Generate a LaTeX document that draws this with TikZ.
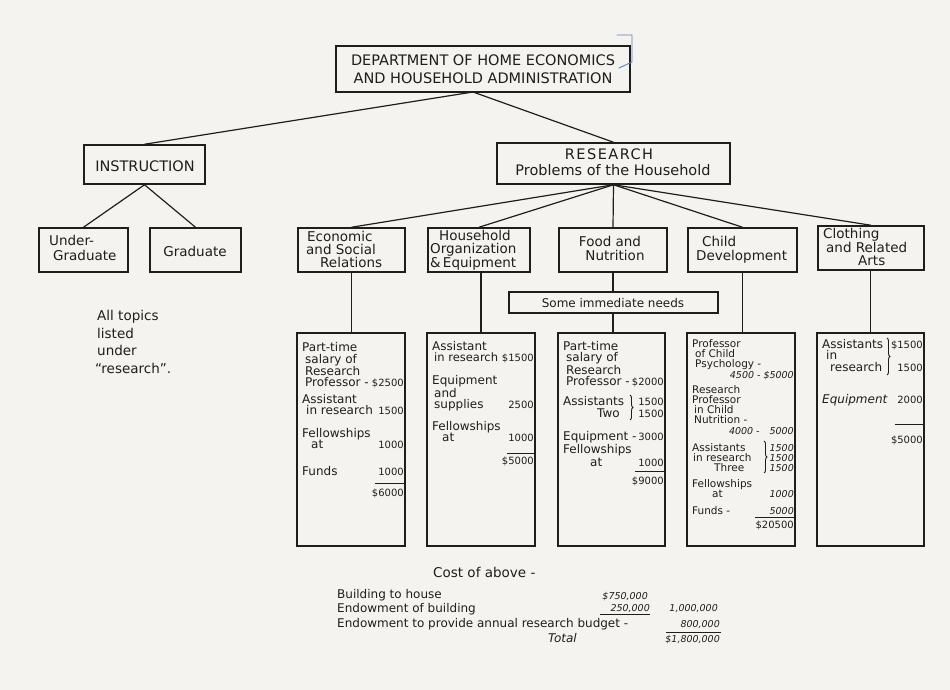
\documentclass[tikz,border=0pt]{standalone}
\usepackage{fontspec}
\setmainfont{DejaVu Sans}
\usetikzlibrary{decorations.pathreplacing}
\definecolor{ink}{HTML}{1E1E1C}
\definecolor{paper}{HTML}{F4F3EF}
\definecolor{pen}{HTML}{5C80B8}
\newcounter{tn}
\newcommand\LT[3][bt]{\stepcounter{tn}\node[#1,anchor=base west] (t\arabic{tn}) at (#2) {#3};}
\newcommand\RT[3][nm]{\stepcounter{tn}\node[#1,anchor=base east] (t\arabic{tn}) at (#2) {#3};}
\newcommand\CT[3][hd]{\stepcounter{tn}\node[#1,anchor=base] (t\arabic{tn}) at (#2) {#3};}
\begin{document}
\begin{tikzpicture}[x=1pt,y=-1pt,
  box/.style={draw=ink, line width=1.5pt, rectangle, inner sep=0pt},
  ln/.style={draw=ink, line width=1.2pt},
  rl/.style={draw=ink, line width=1pt},
  hd/.style={inner sep=0pt, text=ink, font=\fontsize{14.5}{16}\selectfont},
  tt/.style={inner sep=0pt, text=ink, font=\fontsize{13.5}{15}\selectfont},
  bt/.style={inner sep=0pt, text=ink, font=\fontsize{12}{14}\selectfont},
  bs/.style={inner sep=0pt, text=ink, font=\fontsize{11.5}{13}\selectfont},
  st/.style={inner sep=0pt, text=ink, font=\fontsize{10.5}{12}\selectfont},
  nm/.style={inner sep=0pt, text=ink, font=\fontsize{10}{11}\selectfont},
  on/.style={inner sep=0pt, text=ink, font=\fontsize{9.5}{11}\selectfont\itshape},
  brc/.style={draw=ink, line width=0.9pt, decorate, decoration={brace, amplitude=3pt}},
]
\fill[paper] (0,0) rectangle (950,690);
\useasboundingbox (0,0) rectangle (950,690);

% ---------- boxes ----------
\node[box, minimum width=294pt, minimum height=46pt] (top) at (483,69) {};
\node[box, minimum width=121pt, minimum height=39pt] (instr) at (144.5,164.5) {};
\node[box, minimum width=233pt, minimum height=41pt] (res) at (613.5,163.5) {};
\node[box, minimum width=89pt, minimum height=44pt] (ug) at (83.5,250) {};
\node[box, minimum width=91pt, minimum height=44pt] (gr) at (195.5,250) {};
\node[box, minimum width=107pt, minimum height=44pt] (eco) at (351.5,250) {};
\node[box, minimum width=102pt, minimum height=44pt] (hh) at (479,250) {};
\node[box, minimum width=108pt, minimum height=44pt] (food) at (613,250) {};
\node[box, minimum width=109pt, minimum height=44pt] (child) at (742.5,250) {};
\node[box, minimum width=106pt, minimum height=44pt] (cloth) at (871,248) {};
\node[box, minimum width=209pt, minimum height=21pt] (needs) at (613.5,302.5) {};
\node[box, minimum width=108pt, minimum height=213pt] (b1) at (351,439.5) {};
\node[box, minimum width=108pt, minimum height=213pt] (b2) at (481,439.5) {};
\node[box, minimum width=107pt, minimum height=213pt] (b3) at (611.5,439.5) {};
\node[box, minimum width=108pt, minimum height=213pt] (b4) at (741,439.5) {};
\node[box, minimum width=107pt, minimum height=213pt] (b5) at (870.5,439.5) {};

% ---------- connectors ----------
\coordinate (apex) at (473,92);
\draw[ln] (apex) -- (instr.north);
\draw[ln] (apex) -- (res.north);
\draw[ln] (instr.south) -- (ug.north);
\draw[ln] (instr.south) -- (gr.north);
\foreach \n in {eco,hh,food,child,cloth} \draw[ln] (res.south) -- (\n.north);
\draw[ln] (eco.south) -- (eco.south |- b1.north);
\draw[ln] (b2.north |- hh.south) -- (b2.north);
\draw[ln] (food.south) -- (food.south |- needs.north);
\draw[ln] (food.south |- needs.south) -- (food.south |- b3.north);
\draw[ln] (child.south) -- (child.south |- b4.north);
\draw[ln] (b5.north |- cloth.south) -- (b5.north);

% blue pencil bracket
\draw[pen, line width=0.9pt, line cap=round] (617,35) -- (632,35) -- (632,62) -- (619,68);

% ---------- headings ----------
\CT{483,66}{DEPARTMENT OF HOME ECONOMICS}
\CT{483,84}{AND HOUSEHOLD ADMINISTRATION}
\CT{145,171}{INSTRUCTION}
\CT{609,159}{\addfontfeature{LetterSpace=10}RESEARCH}
\CT{613,175.5}{Problems of the Household}

\LT[tt]{307,241}{Economic}
\LT[tt]{306,254}{and Social}
\LT[tt]{320,267}{Relations}
\LT[tt]{439,240}{Household}
\LT[tt]{430,253}{Organization}
\LT[tt]{430,267.5}{\&\,Equipment}
\CT[tt]{610,246}{Food and}
\CT[tt]{615,260}{Nutrition}
\LT[tt]{702,246}{Child}
\LT[tt]{696,260}{Development}
\LT[tt]{823,238.5}{Clothing}
\LT[tt]{826,252.5}{and Related}
\LT[tt]{858,265.5}{Arts}
\CT[bt]{613,307}{Some immediate needs}
\LT[tt]{49,245}{Under-}
\LT[tt]{53,260}{Graduate}
\CT[tt]{195,256}{Graduate}

\LT[tt]{97,320}{All topics}
\LT[tt]{97,338}{listed}
\LT[tt]{97,355}{under}
\LT[tt]{95,373}{``research''.}

% ---------- budget box 1 ----------
\LT{302,351}{Part-time}
\LT{305,363}{salary of}
\LT{305,375}{Research}
\LT{305,386}{Professor -}
\RT{404,386}{\$2500}
\LT{302,403}{Assistant}
\LT{306,414.5}{in research}
\RT{404,414.5}{1500}
\LT{302,437.5}{Fellowships}
\LT{311,448}{at}
\RT{404,448}{1000}
\LT{302,475}{Funds}
\RT{404,475}{1000}
\coordinate (r1a) at (375,483); \coordinate (r1b) at (404,483);
\draw[rl] (r1a) -- (r1b);
\RT{404,496}{\$6000}

% ---------- budget box 2 ----------
\LT{432,350}{Assistant}
\LT[bs]{434,361.5}{in research}
\RT{534,361.5}{\$1500}
\LT{432,384}{Equipment}
\LT{434,397}{and}
\LT{434,408}{supplies}
\RT{534,408}{2500}
\LT{432,430}{Fellowships}
\LT{442,441}{at}
\RT{534,441}{1000}
\coordinate (r2a) at (507,453); \coordinate (r2b) at (534,453);
\draw[rl] (r2a) -- (r2b);
\RT{534,464}{\$5000}

% ---------- budget box 3 ----------
\LT{563,350}{Part-time}
\LT{566,361.5}{salary of}
\LT{566,374}{Research}
\LT{566,385.5}{Professor -}
\RT{664,385.5}{\$2000}
\LT{563,405}{Assistants}
\RT{664,405}{1500}
\LT{597,417}{Two}
\RT{664,417}{1500}
\coordinate (c3a) at (630,395); \coordinate (c3b) at (630,420);
\draw[brc] (c3a) -- (c3b);
\LT{563,440}{Equipment -}
\RT{664,440}{3000}
\LT{563,453}{Fellowships}
\LT{590,466}{at}
\RT{664,466}{1000}
\coordinate (r3a) at (635,471); \coordinate (r3b) at (664,471);
\draw[rl] (r3a) -- (r3b);
\RT{664,484}{\$9000}

% ---------- budget box 4 ----------
\LT[st]{692,347}{Professor}
\LT[st]{695,357}{of Child}
\LT[st]{695,367}{Psychology -}
\RT[on]{794,378}{4500 - \$5000}
\LT[st]{692,393}{Research}
\LT[st]{692,403}{Professor}
\LT[st]{694,413}{in Child}
\LT[st]{694,423}{Nutrition -}
\RT[on]{794,434}{4000 -\hspace{10pt}5000}
\LT[st]{692,451}{Assistants}
\RT[on]{794,451}{1500}
\LT[st]{693,461}{in research}
\RT[on]{794,461}{1500}
\LT[st]{714,471}{Three}
\RT[on]{794,471}{1500}
\coordinate (c4a) at (764,441); \coordinate (c4b) at (764,473);
\draw[brc] (c4a) -- (c4b);
\LT[st]{692,487}{Fellowships}
\LT[st]{712,497}{at}
\RT[on]{794,497}{1000}
\LT[st]{692,514}{Funds -}
\RT[on]{794,514}{5000}
\coordinate (r4a) at (755,517); \coordinate (r4b) at (794,517);
\draw[rl] (r4a) -- (r4b);
\RT{794,528}{\$20500}

% ---------- budget box 5 ----------
\LT{822,348}{Assistants}
\RT{923,348}{\$1500}
\LT{826,359.5}{in}
\LT{830,371}{research}
\RT{923,371}{1500}
\coordinate (c5a) at (887,338); \coordinate (c5b) at (887,375);
\draw[brc] (c5a) -- (c5b);
\LT{822,403}{\itshape Equipment}
\RT{923,403}{2000}
\coordinate (r5a) at (895,424); \coordinate (r5b) at (923,424);
\draw[rl] (r5a) -- (r5b);
\RT{923,443}{\$5000}

% ---------- cost of above ----------
\LT[tt]{433,577}{Cost of above -}
\LT{337,598}{Building to house}
\RT[on]{648,599}{\$750,000}
\LT{337,612}{Endowment of building}
\RT[on]{650,611}{250,000}
\coordinate (r6a) at (600,614); \coordinate (r6b) at (650,614);
\draw[rl] (r6a) -- (r6b);
\RT[on]{718,611}{1,000,000}
\LT{337,627}{Endowment to provide annual research budget -}
\RT[on]{720,627}{800,000}
\coordinate (r7a) at (666,632); \coordinate (r7b) at (721,632);
\draw[rl] (r7a) -- (r7b);
\LT{548,642}{\itshape Total}
\RT[on]{720,642}{\$1,800,000}
\end{tikzpicture}
\end{document}
